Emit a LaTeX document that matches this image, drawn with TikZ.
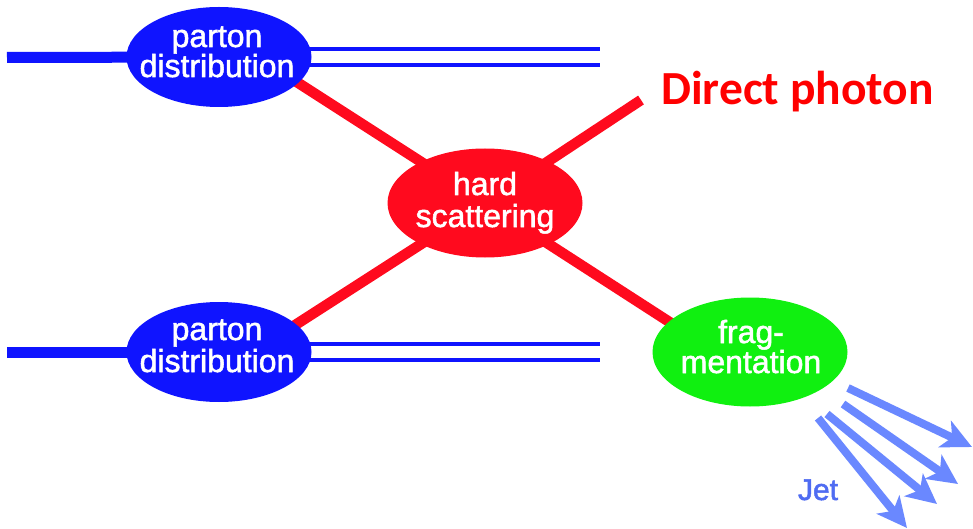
\documentclass[tikz,border=0pt]{standalone}
\usepackage{fontspec}
\setmainfont{Liberation Sans}
\newfontfamily\heavyfont[FakeBold=1.6]{Liberation Sans}
\newfontfamily\carlito{Carlito}
\usetikzlibrary{shapes.geometric,arrows.meta,calc,backgrounds}
\definecolor{pblue}{HTML}{0F14FF}
\definecolor{hred}{HTML}{FF0A1E}
\definecolor{fgreen}{HTML}{10F010}
\definecolor{jblue}{HTML}{6A88FF}
\definecolor{jtext}{HTML}{4F6CF2}
\begin{document}
\begin{tikzpicture}[x=1pt,y=-1pt,
  blob/.style={ellipse, inner sep=0pt, draw=none},
  lbl/.style={text=white, inner sep=0pt, anchor=base, font=\heavyfont\fontsize{32}{30}\selectfont},
  thickblue/.style={draw=pblue, line width=11pt},
  thinblue/.style={draw=pblue, line width=4pt},
  redline/.style={draw=hred, line width=10.5pt},
  jet/.style={draw=jblue, line width=8pt, -{Stealth[length=30pt,width=29pt,inset=8pt]}}]
\useasboundingbox (0,0) rectangle (973,529);
% ellipses
\node[blob, fill=pblue, minimum width=185pt, minimum height=100pt] (pd1) at (219,57) {};
\node[blob, fill=pblue, minimum width=185pt, minimum height=100pt] (pd2) at (219,352) {};
\node[blob, fill=hred, minimum width=195pt, minimum height=109pt] (hs) at (485,203) {};
\node[blob, fill=fgreen, minimum width=195pt, minimum height=109pt] (frag) at (750,352) {};
% labels
\node[lbl] (pd1a) at (217,47) {parton};
\node[lbl] (pd1b) at (217,77) {distribution};
\node[lbl] (pd2a) at (217,340) {parton};
\node[lbl] (pd2b) at (217,372) {distribution};
\node[lbl] (hsa) at (485,195) {hard};
\node[lbl] (hsb) at (485,227) {scattering};
\node[lbl] (fra) at (751,343) {frag-};
\node[lbl] (frb) at (751,373) {mentation};
\node[anchor=base west, inner sep=0pt, text=red, font=\carlito\bfseries\fontsize{47.5}{47.5}\selectfont] (dp) at (661,105) {Direct photon};
\node[anchor=base, inner sep=0pt, text=jtext, font=\heavyfont\fontsize{30}{30}\selectfont] (jet) at (818,500) {Jet};
% free ends
\coordinate (l1) at (7,57.5);
\coordinate (l2) at (7,352);
\coordinate (r1) at (600,57);
\coordinate (r2) at (600,352);
\coordinate (ph) at (641,100);
\begin{pgfonlayer}{background}
\fill[white] (0,0) rectangle (973,529);
\draw[thickblue] (l1) -- (pd1.center);
\draw[thickblue] (l2) -- (pd2.center);
\draw[thinblue] ($(pd1.center)+(0,-8)$) -- ($(r1)+(0,-8)$);
\draw[thinblue] ($(pd1.center)+(0,8)$) -- ($(r1)+(0,8)$);
\draw[thinblue] ($(pd2.center)+(0,-8)$) -- ($(r2)+(0,-8)$);
\draw[thinblue] ($(pd2.center)+(0,8)$) -- ($(r2)+(0,8)$);
\draw[redline] (hs.center) -- ($(pd1.center)+(0,-25)$);
\draw[redline] (hs.center) -- ($(pd2.center)+(0,22)$);
\draw[redline] (hs.center) -- ($(frag.center)+(0,22)$);
\draw[redline] (hs.center) -- (ph);
\end{pgfonlayer}
% jet arrows
\coordinate (j1s) at (848,388); \coordinate (j1e) at (972,447);
\coordinate (j2s) at (843,404); \coordinate (j2e) at (958,484);
\coordinate (j3s) at (827,414); \coordinate (j3e) at (937,504);
\coordinate (j4s) at (818,418); \coordinate (j4e) at (907,528);
\draw[jet] (j1s) -- (j1e);
\draw[jet] (j2s) -- (j2e);
\draw[jet] (j3s) -- (j3e);
\draw[jet] (j4s) -- (j4e);
\end{tikzpicture}
\end{document}
